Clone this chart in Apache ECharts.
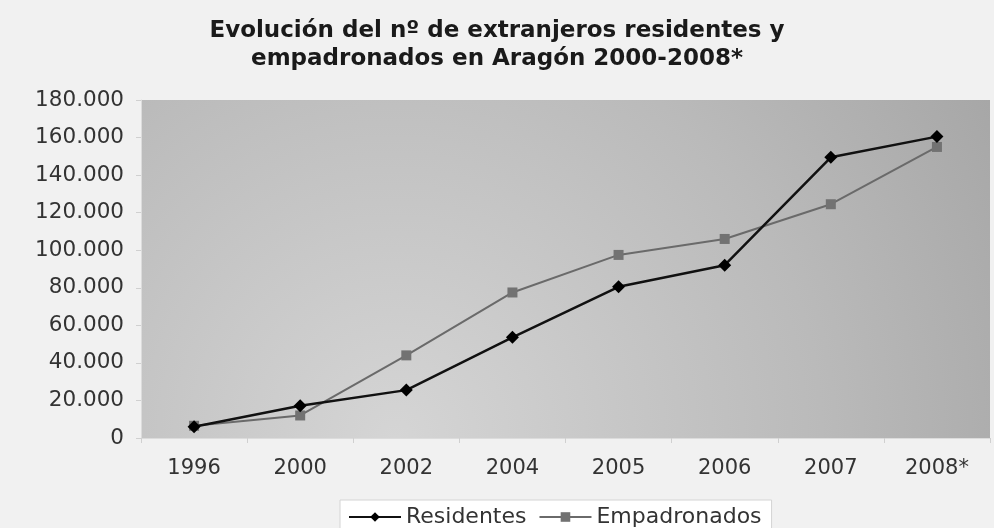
<!DOCTYPE html>
<html>
<head>
<meta charset="utf-8">
<script src="https://cdn.jsdelivr.net/npm/echarts@6/dist/echarts.min.js"></script>
<style>
  html, body { margin: 0; padding: 0; background: #f1f1f1; }
  #chart { width: 994px; height: 528px; }
</style>
</head>
<body>
<div id="chart"></div>
<script>
// datos
const years = ['1996', '2000', '2002', '2004', '2005', '2006', '2007', '2008*'];
const residentes = [6000, 17200, 25500, 53600, 80500, 92000, 149500, 160500];
const empadronados = [6500, 12000, 44000, 77500, 97500, 106000, 124500, 155000];

const myChart = echarts.init(document.getElementById('chart'));

const option = {
  backgroundColor: '#f1f1f1',
  title: {
    text: 'Evolución del nº de extranjeros residentes y\nempadronados en Aragón 2000-2008*',
    left: 'center',
    top: 12,
    textStyle: {
      fontFamily: 'DejaVu Sans',
      fontWeight: 'bold',
      fontSize: 23,
      lineHeight: 28,
      color: '#1a1a1a'
    }
  },
  legend: {
    data: ['Residentes', 'Empadronados'],
    left: 340,
    top: 500,
    itemWidth: 52,
    itemHeight: 12,
    itemGap: 12,
    padding: [6, 10, 10, 8],
    backgroundColor: '#ffffff',
    borderColor: '#d4d4d4',
    borderWidth: 1,
    textStyle: {
      fontFamily: 'DejaVu Sans',
      fontSize: 22,
      color: '#333'
    }
  },
  grid: {
    left: 141,
    right: 4,
    top: 100,
    bottom: 90,
    show: true,
    borderWidth: 0,
    backgroundColor: new echarts.graphic.RadialGradient(0.3, 1, 2.1, [
      { offset: 0, color: '#d5d5d5' },
      { offset: 0.6, color: '#bababa' },
      { offset: 1, color: '#a5a5a5' }
    ])
  },
  xAxis: {
    type: 'category',
    data: years,
    boundaryGap: true,
    axisLine: { lineStyle: { color: '#dcdcdc' } },
    axisTick: { show: true, length: 5, lineStyle: { color: '#d0d0d0' } },
    axisLabel: {
      fontFamily: 'DejaVu Sans',
      fontSize: 21,
      color: '#333',
      margin: 20
    }
  },
  yAxis: {
    type: 'value',
    min: 0,
    max: 180000,
    interval: 20000,
    axisLine: { show: true, lineStyle: { color: '#dcdcdc' } },
    axisTick: { show: true, length: 5, lineStyle: { color: '#d0d0d0' } },
    splitLine: { show: false },
    axisLabel: {
      fontFamily: 'DejaVu Sans',
      fontSize: 21.5,
      color: '#333',
      margin: 17,
      formatter: function (v) {
        return v.toString().replace(/\B(?=(\d{3})+(?!\d))/g, '.');
      }
    }
  },
  series: [
    {
      name: 'Residentes',
      type: 'line',
      data: residentes,
      symbol: 'diamond',
      symbolSize: 13,
      z: 3,
      lineStyle: { color: '#111', width: 2.5 },
      itemStyle: { color: '#000' }
    },
    {
      name: 'Empadronados',
      type: 'line',
      data: empadronados,
      symbol: 'rect',
      symbolSize: 10,
      z: 2,
      lineStyle: { color: '#6a6a6a', width: 2 },
      itemStyle: { color: '#727272' }
    }
  ]
};

myChart.setOption(option);
</script>
</body>
</html>
